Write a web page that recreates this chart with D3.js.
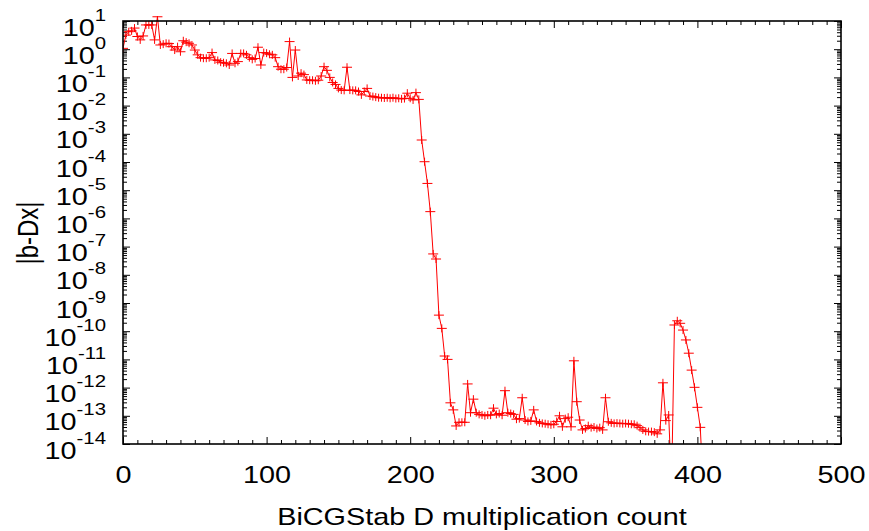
<!DOCTYPE html>
<html>
<head>
<meta charset="utf-8">
<script src="https://cdn.jsdelivr.net/npm/d3@7/dist/d3.min.js"></script>
<style>
  body { margin: 0; background: #fff; }
  text { font-family: "Liberation Sans", Arial, Helvetica, sans-serif; fill: #000; }
</style>
</head>
<body>
<div id="chart"></div>
<script>
// multiplication count (x)
var mcount = [
  0, 2, 4, 6, 8, 10, 12, 14, 16, 18,
  20, 22, 24, 26, 28, 30, 32, 34, 36, 38,
  40, 42, 44, 46, 48, 50, 52, 54, 56, 58,
  60, 62, 64, 66, 68, 70, 72, 74, 76, 78,
  80, 82, 84, 86, 88, 90, 92, 94, 96, 98,
  100, 102, 104, 106, 108, 110, 112, 114, 116, 118,
  120, 122, 124, 126, 128, 130, 132, 134, 136, 138,
  140, 142, 144, 146, 148, 150, 152, 154, 156, 158,
  160, 162, 164, 166, 168, 170, 172, 174, 176, 178,
  180, 182, 184, 186, 188, 190, 192, 194, 196, 198,
  200, 202, 204, 206, 208, 210, 212, 214, 216, 218,
  220, 222, 224, 226, 228, 230, 232, 234, 236, 238,
  240, 242, 244, 246, 248, 250, 252, 254, 256, 258,
  260, 262, 264, 266, 268, 270, 272, 274, 276, 278,
  280, 282, 284, 286, 288, 290, 292, 294, 296, 298,
  300, 302, 304, 306, 308, 310, 312, 314, 316, 318,
  320, 322, 324, 326, 328, 330, 332, 334, 336, 338,
  340, 342, 344, 346, 348, 350, 352, 354, 356, 358,
  360, 362, 364, 366, 368, 370, 372, 374, 376, 378,
  380, 382, 384, 386, 388, 390, 392, 394, 396, 398,
  400, 402, 404
];

// |b-Dx|, stored as log10 exponent
var residualExp = [
  0.03, 0.50, 0.62, 0.65, 0.75, 0.45, 0.33, 0.47, 0.86, 0.86,
  0.86, 0.33, 1.15, 0.15, 0.18, 0.21, 0.20, 0.09, -0.03, 0.09,
  -0.09, 0.30, 0.25, 0.21, 0.15, -0.03, -0.20, -0.30, -0.32, -0.32,
  -0.30, -0.12, -0.38, -0.40, -0.46, -0.48, -0.50, -0.56, -0.15, -0.50,
  -0.44, -0.15, -0.15, -0.20, -0.30, -0.36, -0.33, 0.07, -0.56, -0.12,
  -0.14, -0.18, -0.20, -0.30, -0.62, -0.71, -0.71, -0.65, 0.27, -1.00,
  -0.03, -0.95, -0.85, -0.90, -1.09, -1.10, -1.10, -1.12, -1.10, -0.95,
  -0.62, -0.75, -1.00, -1.18, -1.25, -1.39, -1.45, -1.46, -0.64, -1.45,
  -1.46, -1.46, -1.50, -1.62, -1.50, -1.39, -1.66, -1.68, -1.70, -1.72,
  -1.72, -1.73, -1.72, -1.74, -1.72, -1.75, -1.74, -1.76, -1.75, -1.56,
  -1.74, -1.80, -1.54, -1.78, -3.22, -3.99, -4.76, -5.76, -7.26, -7.44,
  -9.43, -9.90, -10.88, -11.00, -12.54, -12.79, -13.36, -13.23, -13.23, -13.23,
  -11.87, -12.89, -12.41, -12.89, -12.95, -12.97, -13.00, -12.97, -12.98, -12.73,
  -12.95, -12.92, -12.98, -12.11, -12.89, -12.92, -12.95, -13.12, -13.10, -12.36,
  -13.15, -13.20, -13.18, -12.79, -13.20, -13.25, -13.27, -13.28, -13.30, -13.32,
  -13.30, -13.20, -13.00, -13.39, -13.10, -13.05, -13.39, -11.05, -12.50, -13.15,
  -13.50, -13.45, -13.35, -13.42, -13.40, -13.45, -13.42, -13.50, -12.36, -13.21,
  -13.25, -13.27, -13.26, -13.27, -13.28, -13.27, -13.28, -13.30, -13.30, -13.35,
  -13.42, -13.50, -13.55, -13.56, -13.56, -13.58, -13.64, -13.50, -11.83, -13.17,
  -12.97, -15.50, -9.78, -9.63, -9.72, -9.96, -10.31, -10.78, -11.38, -11.99,
  -12.70, -13.41, -15.50
];

var xTicks = [0, 100, 200, 300, 400, 500];
var yDecades = [1, 0, -1, -2, -3, -4, -5, -6, -7, -8, -9, -10, -11, -12, -13, -14];

var data = mcount.map(function (m, i) {
  return { m: m, r: Math.pow(10, residualExp[i]) };
});

// set the dimensions and margins of the graph
var margin = { top: 21, right: 28, bottom: 87, left: 123 },
  width = 869 - margin.left - margin.right,
  height = 531 - margin.top - margin.bottom;

// text in the original is a bit wider than Liberation Sans
var stretch = 1.2;

var svg = d3.select("#chart")
  .append("svg")
  .attr("width", 869)
  .attr("height", 531)
  .append("g")
  .attr("transform", "translate(" + margin.left + "," + margin.top + ")");

var x = d3.scaleLinear().domain([0, 500]).range([0, width]);
var y = d3.scaleLog().domain([1e-14, 10]).range([height, 0]);

// minor tick positions
var xMinor = d3.range(0, 501, 10).filter(function (v) { return v % 100 !== 0; });
var yMinor = [];
yDecades.slice(1).forEach(function (d) {
  for (var k = 2; k <= 9; k++) yMinor.push(k * Math.pow(10, d));
});
var yMajor = yDecades.map(function (d) { return Math.pow(10, d); });

function styleAxis(g) {
  g.select(".domain").remove();
  g.selectAll(".tick line").attr("stroke", "#000").attr("stroke-width", 1);
}

// x ticks, bottom and top (inward)
svg.append("g").attr("transform", "translate(0," + height + ")")
  .call(d3.axisBottom(x).tickValues(xMinor).tickSize(-4).tickFormat(""))
  .call(styleAxis);
svg.append("g")
  .call(d3.axisTop(x).tickValues(xMinor).tickSize(-4).tickFormat(""))
  .call(styleAxis);
svg.append("g")
  .call(d3.axisTop(x).tickValues(xTicks).tickSize(-7).tickFormat(""))
  .call(styleAxis);
var xAxis = svg.append("g").attr("transform", "translate(0," + height + ")")
  .call(d3.axisBottom(x).tickValues(xTicks).tickSize(-7).tickPadding(0).tickFormat(d3.format("d")))
  .call(styleAxis);
xAxis.selectAll("text")
  .attr("y", null).attr("dy", null)
  .attr("transform", "translate(0,39) scale(" + stretch + ",1)")
  .style("font-size", "24px");

// y ticks, left and right (inward)
svg.append("g")
  .call(d3.axisLeft(y).tickValues(yMinor).tickSize(-4).tickFormat(""))
  .call(styleAxis);
svg.append("g").attr("transform", "translate(" + width + ",0)")
  .call(d3.axisRight(y).tickValues(yMinor).tickSize(-4).tickFormat(""))
  .call(styleAxis);
svg.append("g").attr("transform", "translate(" + width + ",0)")
  .call(d3.axisRight(y).tickValues(yMajor).tickSize(-7).tickFormat(""))
  .call(styleAxis);
var yAxis = svg.append("g")
  .call(d3.axisLeft(y).tickValues(yMajor).tickSize(-7).tickPadding(16).tickFormat(""))
  .call(styleAxis);

yAxis.selectAll(".tick text").each(function (v) {
  var t = d3.select(this)
    .attr("dy", null).attr("x", null).attr("y", null)
    .attr("transform", "translate(-17,14) scale(" + stretch + ",1)")
    .attr("text-anchor", "end");
  t.append("tspan").style("font-size", "24px").text("10");
  t.append("tspan").style("font-size", "17px").attr("dy", -15)
    .text(String(Math.round(Math.log10(v))));
});

// clip for the data
svg.append("clipPath").attr("id", "clip")
  .append("rect").attr("x", 0).attr("y", -5).attr("width", width).attr("height", height + 5);

var plot = svg.append("g").attr("clip-path", "url(#clip)");

// Add the line
plot.append("path")
  .datum(data)
  .attr("fill", "none")
  .attr("stroke", "#ff0000")
  .attr("stroke-width", 1)
  .attr("d", d3.line()
    .x(function (d) { return x(d.m); })
    .y(function (d) { return y(d.r); })
  );

// + markers
plot.selectAll(".pt")
  .data(data)
  .enter().append("path")
  .attr("class", "pt")
  .attr("transform", function (d) { return "translate(" + x(d.m) + "," + y(d.r) + ")"; })
  .attr("d", "M-5,0H5M0,-4V4")
  .attr("stroke", "#ff0000")
  .attr("stroke-width", 1)
  .attr("fill", "none");

// frame
svg.append("rect")
  .attr("x", 0).attr("y", 0)
  .attr("width", width).attr("height", height)
  .attr("fill", "none")
  .attr("stroke", "#000")
  .attr("stroke-width", 1.6);

// axis titles
svg.append("text")
  .attr("transform", "translate(" + (width / 2) + "," + (height + 81) + ") scale(" + stretch + ",1)")
  .attr("text-anchor", "middle")
  .style("font-size", "24px")
  .text("BiCGStab D multiplication count");

svg.append("text")
  .attr("transform", "translate(" + (38 - margin.left) + "," + (233 - margin.top) + ") rotate(-90) scale(1," + stretch + ")")
  .attr("text-anchor", "middle")
  .style("font-size", "24px")
  .text("|b-Dx|");
</script>
</body>
</html>
